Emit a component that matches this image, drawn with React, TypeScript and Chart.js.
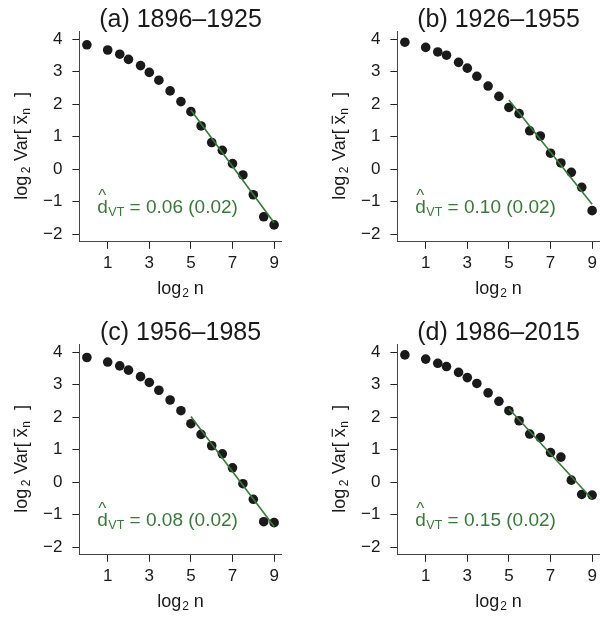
import React, { useEffect, useRef } from "react";
import { Chart, registerables } from "chart.js";

Chart.register(...registerables);

// ---- data ----
const logN = [0, 1, 1.58, 2, 2.58, 3, 3.46, 4, 4.52, 5, 5.49, 6, 6.51, 7, 7.5, 8, 8.5, 9];

const varA = [3.83, 3.67, 3.54, 3.38, 3.19, 2.98, 2.74, 2.41, 2.08, 1.77, 1.33, 0.82, 0.58, 0.17, -0.18, -0.79, -1.47, -1.72];
const varB = [3.91, 3.75, 3.61, 3.51, 3.29, 3.11, 2.86, 2.56, 2.24, 1.9, 1.71, 1.18, 1.02, 0.49, 0.19, -0.1, -0.56, -1.28];
const varC = [3.84, 3.7, 3.58, 3.45, 3.25, 3.07, 2.83, 2.53, 2.2, 1.8, 1.47, 1.12, 0.87, 0.44, -0.05, -0.53, -1.22, -1.25];
const varD = [3.92, 3.79, 3.66, 3.56, 3.38, 3.22, 3.04, 2.75, 2.49, 2.2, 1.89, 1.48, 1.37, 0.91, 0.77, 0.06, -0.38, -0.4];

const fitX = [5, 9];
const fitA = [1.82, -1.65];
const fitB = [2.13, -1.08];
const fitC = [2.02, -1.37];
const fitD = [2.26, -0.52];

const panelTitles = ["(a) 1896–1925", "(b) 1926–1955", "(c) 1956–1985", "(d) 1986–2015"];
const dEstimates = ["0.06", "0.10", "0.08", "0.15"];
const dErrors = ["0.02", "0.02", "0.02", "0.02"];

const xTicks = [1, 3, 5, 7, 9];
const yTicks = [-2, -1, 0, 1, 2, 3, 4];

const FONT = "'Liberation Sans', Arial, Helvetica, sans-serif";
const GREEN = "#3b783b";
const INK = "#1a1a1a";

type PanelProps = {
  left: number;
  top: number;
  title: string;
  values: number[];
  fit: number[];
  est: string;
  se: string;
};

function Panel({ left, top, title, values, fit, est, se }: PanelProps) {
  const ref = useRef<HTMLCanvasElement | null>(null);

  useEffect(() => {
    if (!ref.current) return;
    const textPlugin = {
      id: "panelText",
      afterDraw(chart: any) {
        const { ctx, chartArea, scales } = chart;
        const cx = (chartArea.left + chartArea.right) / 2;
        const cy = (chartArea.top + chartArea.bottom) / 2;
        ctx.save();
        ctx.textBaseline = "alphabetic";
        ctx.fillStyle = INK;

        // panel title
        ctx.font = `25px ${FONT}`;
        ctx.textAlign = "center";
        ctx.fillText(title, cx, 27.3);

        // x axis title: log2 n
        ctx.textAlign = "left";
        ctx.font = `18px ${FONT}`;
        const wLog = ctx.measureText("log").width;
        const wN = ctx.measureText("n").width;
        ctx.font = `12px ${FONT}`;
        const w2 = ctx.measureText("2").width;
        const totalX = wLog + 1 + w2 + 5 + wN;
        let px = cx - totalX / 2;
        const xBase = 294.3;
        ctx.font = `18px ${FONT}`;
        ctx.fillText("log", px, xBase);
        px += wLog + 1;
        ctx.font = `12px ${FONT}`;
        ctx.fillText("2", px, xBase + 3);
        px += w2 + 5;
        ctx.font = `18px ${FONT}`;
        ctx.fillText("n", px, xBase);

        // y axis title: log2 Var[ x̄n ]
        ctx.save();
        ctx.translate(26.5, cy + 5.5 + 57.5);
        ctx.rotate(-Math.PI / 2);
        let p = 0;
        ctx.font = `18px ${FONT}`;
        ctx.fillText("log", p, 0);
        p += wLog + 2.5;
        ctx.font = `12px ${FONT}`;
        ctx.fillText("2", p, 3);
        p += w2 + 5.5;
        ctx.font = `18px ${FONT}`;
        ctx.fillText("Var[", p, 0);
        p += ctx.measureText("Var[").width + 5;
        const wx = ctx.measureText("x").width;
        ctx.fillText("x", p, 0);
        ctx.fillRect(p + 0.5, -12.8, wx - 1, 1.2);
        p += wx + 0.5;
        ctx.font = `12px ${FONT}`;
        ctx.fillText("n", p, 3);
        p += ctx.measureText("n").width + 11;
        ctx.font = `18px ${FONT}`;
        ctx.fillText("]", p, 0);
        ctx.restore();

        // estimate annotation
        const x0 = scales.x.getPixelForValue(0.5);
        const base = scales.y.getPixelForValue(-1.35);
        ctx.fillStyle = GREEN;
        ctx.textAlign = "left";
        ctx.font = `19px ${FONT}`;
        const dW = ctx.measureText("d").width;
        ctx.fillText("d", x0, base);
        ctx.textAlign = "center";
        ctx.font = `17px ${FONT}`;
        ctx.fillText("^", x0 + dW * 0.46, base - 12.4);
        ctx.textAlign = "left";
        ctx.font = `12.5px ${FONT}`;
        ctx.fillText("VT", x0 + dW + 0.5, base + 3.3);
        const vtW = ctx.measureText("VT").width;
        ctx.font = `19px ${FONT}`;
        ctx.fillText(` = ${est} (${se})`, x0 + dW + 0.5 + vtW, base);
        ctx.restore();
      },
    };

    const chart = new Chart(ref.current, {
      type: "scatter",
      data: {
        datasets: [
          {
            label: "fit",
            data: fitX.map((x, i) => ({ x, y: fit[i] })),
            showLine: true,
            borderColor: GREEN,
            borderWidth: 1.6,
            pointRadius: 0,
            fill: false,
          },
          {
            label: "values",
            data: logN.map((x, i) => ({ x, y: values[i] })),
            showLine: false,
            pointRadius: 4.8,
            pointBackgroundColor: INK,
            pointBorderColor: INK,
            pointBorderWidth: 0,
          },
        ],
      },
      options: {
        animation: false,
        responsive: false,
        maintainAspectRatio: false,
        devicePixelRatio: 1,
        layout: {
          autoPadding: false,
          padding: { left: 0, top: 31.5, right: 18.4, bottom: 0 },
        },
        plugins: {
          legend: { display: false },
          tooltip: { enabled: false },
          title: { display: false },
        },
        scales: {
          x: {
            type: "linear",
            min: -0.36,
            max: 9.36,
            afterBuildTicks: (s: any) => {
              s.ticks = xTicks.map((v) => ({ value: v }));
            },
            afterFit: (s: any) => {
              s.height = 58.2;
            },
            grid: { drawOnChartArea: false, drawTicks: true, tickLength: 7, color: "#222", lineWidth: 1 },
            border: { display: true, color: "#444", width: 1 },
            ticks: {
              font: { family: FONT, size: 17 },
              color: INK,
              padding: 4,
              maxRotation: 0,
              autoSkip: false,
              callback: (v: any) => String(v),
            },
            title: { display: false, text: "log₂ n" },
          },
          y: {
            type: "linear",
            min: -2.24,
            max: 4.24,
            afterBuildTicks: (s: any) => {
              s.ticks = yTicks.map((v) => ({ value: v }));
            },
            afterFit: (s: any) => {
              s.width = 79.4;
            },
            grid: { drawOnChartArea: false, drawTicks: true, tickLength: 7, color: "#222", lineWidth: 1 },
            border: { display: true, color: "#444", width: 1 },
            ticks: {
              font: { family: FONT, size: 17 },
              color: INK,
              padding: 10,
              autoSkip: false,
              callback: (v: any) => (Number(v) < 0 ? "−" + Math.abs(Number(v)) : String(v)),
            },
            title: { display: false, text: "log₂ Var[ x̄ₙ ]" },
          },
        },
      },
      plugins: [textPlugin],
    } as any);
    return () => chart.destroy();
  }, [title, values, fit, est, se]);

  return (
    <div style={{ position: "absolute", left, top, width: 300, height: 300 }}>
      <canvas ref={ref} width={300} height={300} style={{ width: 300, height: 300, display: "block" }} />
    </div>
  );
}

export default function App() {
  return (
    <div
      style={{
        position: "absolute",
        left: 0,
        top: 0,
        width: 600,
        height: 617,
        overflow: "hidden",
        background: "#ffffff",
      }}
    >
      <Panel left={0} top={0} title={panelTitles[0]} values={varA} fit={fitA} est={dEstimates[0]} se={dErrors[0]} />
      <Panel left={318} top={0} title={panelTitles[1]} values={varB} fit={fitB} est={dEstimates[1]} se={dErrors[1]} />
      <Panel left={0} top={313} title={panelTitles[2]} values={varC} fit={fitC} est={dEstimates[2]} se={dErrors[2]} />
      <Panel left={318} top={313} title={panelTitles[3]} values={varD} fit={fitD} est={dEstimates[3]} se={dErrors[3]} />
    </div>
  );
}
